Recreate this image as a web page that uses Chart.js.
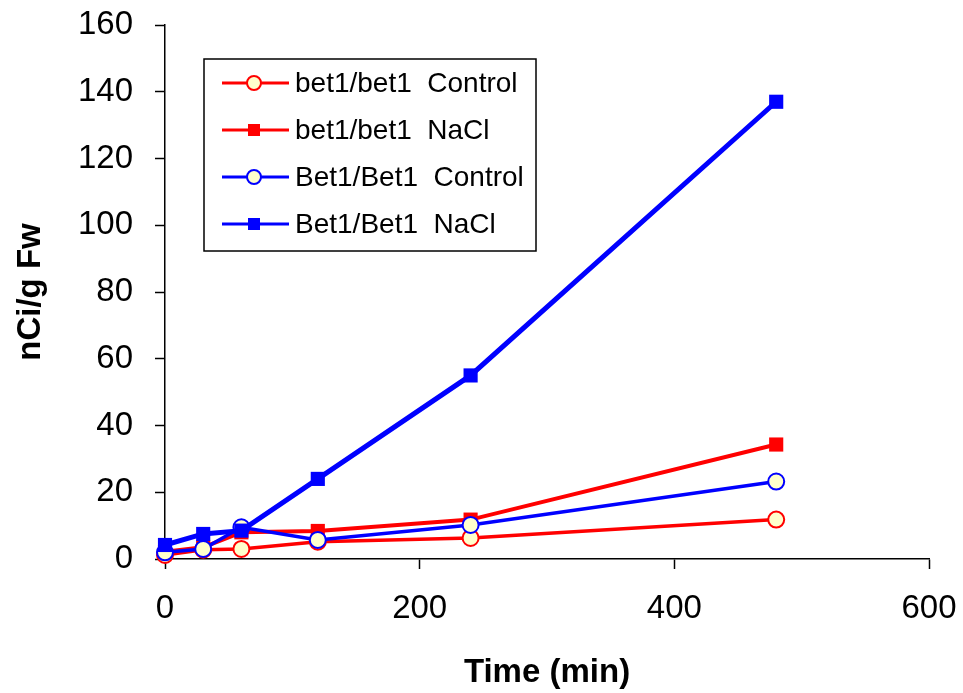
<!DOCTYPE html>
<html lang="en">
  <head>
    <meta charset="UTF-8" />
    <title>Uptake over time</title>
    <script src="https://cdn.jsdelivr.net/npm/chart.js@4"></script>
    <style>
      html,
      body {
        margin: 0;
        padding: 0;
        background: #fff;
      }
      .chart-container {
        position: relative;
        width: 963px;
        height: 693px;
      }
    </style>
  </head>
  <body>
    <div class="chart-container">
      <canvas id="uptakeChart"></canvas>
    </div>

    <script>
      // sampling times (min)
      const times = [0, 30, 60, 120, 240, 480]

      // nCi/g Fw per line
      const mutantControl = [1.2, 2.8, 3.0, 5.2, 6.3, 11.8]
      const mutantNaCl = [2.2, 3.5, 8.0, 8.4, 11.8, 34.3]
      const wildControl = [2.0, 3.0, 9.5, 5.7, 10.2, 23.2]
      const wildNaCl = [4.2, 7.5, 8.5, 24.0, 55.0, 137.0]

      const seriesLabels = [
        "bet1/bet1  Control",
        "bet1/bet1  NaCl",
        "Bet1/Bet1  Control",
        "Bet1/Bet1  NaCl",
      ]

      const RED = "#ff0000"
      const BLUE = "#0000ff"
      const CREAM = "#ffffcc"
      const FONT = "'Liberation Sans', Arial, sans-serif"

      const toPoints = (vals) => vals.map((v, i) => ({ x: times[i], y: v }))

      function circleSet(label, vals, color, width, order) {
        return {
          label,
          data: toPoints(vals),
          borderColor: color,
          borderWidth: width,
          pointStyle: "circle",
          pointRadius: 8,
          pointBorderWidth: 2,
          pointBackgroundColor: CREAM,
          pointBorderColor: color,
          clip: false,
          order,
        }
      }

      function squareSet(label, vals, color, width, order) {
        return {
          label,
          data: toPoints(vals),
          borderColor: color,
          borderWidth: width,
          pointStyle: "rect",
          pointRadius: 10,
          pointBorderWidth: 0,
          pointBackgroundColor: color,
          pointBorderColor: color,
          clip: false,
          order,
        }
      }

      // boxed legend inside the plot, top left
      const boxLegend = {
        id: "boxLegend",
        afterDraw(chart) {
          const ctx = chart.ctx
          const box = { left: 204, top: 59, right: 536, bottom: 251 }
          ctx.save()
          ctx.fillStyle = "#fff"
          ctx.fillRect(box.left, box.top, box.right - box.left, box.bottom - box.top)
          ctx.strokeStyle = "#000"
          ctx.lineWidth = 1.5
          ctx.strokeRect(box.left, box.top, box.right - box.left, box.bottom - box.top)

          ctx.font = "28px " + FONT
          ctx.textBaseline = "middle"
          ctx.textAlign = "left"
          chart.data.datasets.forEach((ds, i) => {
            const y = 83 + i * 47
            ctx.strokeStyle = ds.borderColor
            ctx.lineWidth = 3
            ctx.beginPath()
            ctx.moveTo(222, y)
            ctx.lineTo(289, y)
            ctx.stroke()

            const mx = 254
            if (ds.pointStyle === "circle") {
              ctx.beginPath()
              ctx.arc(mx, y, 7, 0, Math.PI * 2)
              ctx.fillStyle = CREAM
              ctx.fill()
              ctx.lineWidth = 2
              ctx.strokeStyle = ds.borderColor
              ctx.stroke()
            } else {
              ctx.fillStyle = ds.borderColor
              ctx.fillRect(mx - 6, y - 6, 12, 12)
            }

            ctx.fillStyle = "#000"
            ctx.fillText(ds.label, 295, y + 1)
          })
          ctx.restore()
        },
      }

      const ctx = document.getElementById("uptakeChart").getContext("2d")
      new Chart(ctx, {
        type: "line",
        data: {
          datasets: [
            circleSet(seriesLabels[0], mutantControl, RED, 3.5, 4),
            squareSet(seriesLabels[1], mutantNaCl, RED, 4, 3),
            circleSet(seriesLabels[2], wildControl, BLUE, 3.5, 2),
            squareSet(seriesLabels[3], wildNaCl, BLUE, 5, 1),
          ],
        },
        options: {
          responsive: true,
          maintainAspectRatio: false,
          animation: false,
          layout: {
            padding: { left: 0, right: 34, top: 25, bottom: 0 },
          },
          plugins: {
            legend: { display: false },
            tooltip: { enabled: false },
          },
          scales: {
            x: {
              type: "linear",
              min: 0,
              max: 600,
              afterFit: (scale) => {
                // fixed axis band; end labels may overhang the margins
                scale.height = 134
                scale.paddingLeft = 0
                scale.paddingRight = 0
              },
              ticks: {
                stepSize: 200,
                color: "#000",
                padding: 20,
                font: { family: FONT, size: 33 },
              },
              grid: {
                drawOnChartArea: false,
                drawTicks: true,
                tickLength: 10,
                tickWidth: 1.5,
                tickColor: "#000",
              },
              border: { display: true, color: "#000", width: 1.5 },
              title: {
                display: true,
                text: "Time (min)",
                color: "#000",
                font: { family: FONT, size: 33, weight: "bold", lineHeight: 1 },
                padding: { top: 0, bottom: 4 },
              },
            },
            y: {
              min: 0,
              max: 160,
              afterFit: (scale) => {
                scale.width = 165
                scale.paddingTop = 0
                scale.paddingBottom = 0
              },
              ticks: {
                stepSize: 20,
                color: "#000",
                padding: 22,
                font: { family: FONT, size: 33 },
              },
              grid: {
                drawOnChartArea: false,
                drawTicks: true,
                tickLength: 10,
                tickWidth: 1.5,
                tickColor: "#000",
              },
              border: { display: true, color: "#000", width: 1.5 },
              title: {
                display: true,
                text: "nCi/g Fw",
                color: "#000",
                font: { family: FONT, size: 33, weight: "bold", lineHeight: 1 },
                padding: { top: 14, bottom: 0 },
              },
            },
          },
        },
        plugins: [boxLegend],
      })
    </script>
  </body>
</html>
